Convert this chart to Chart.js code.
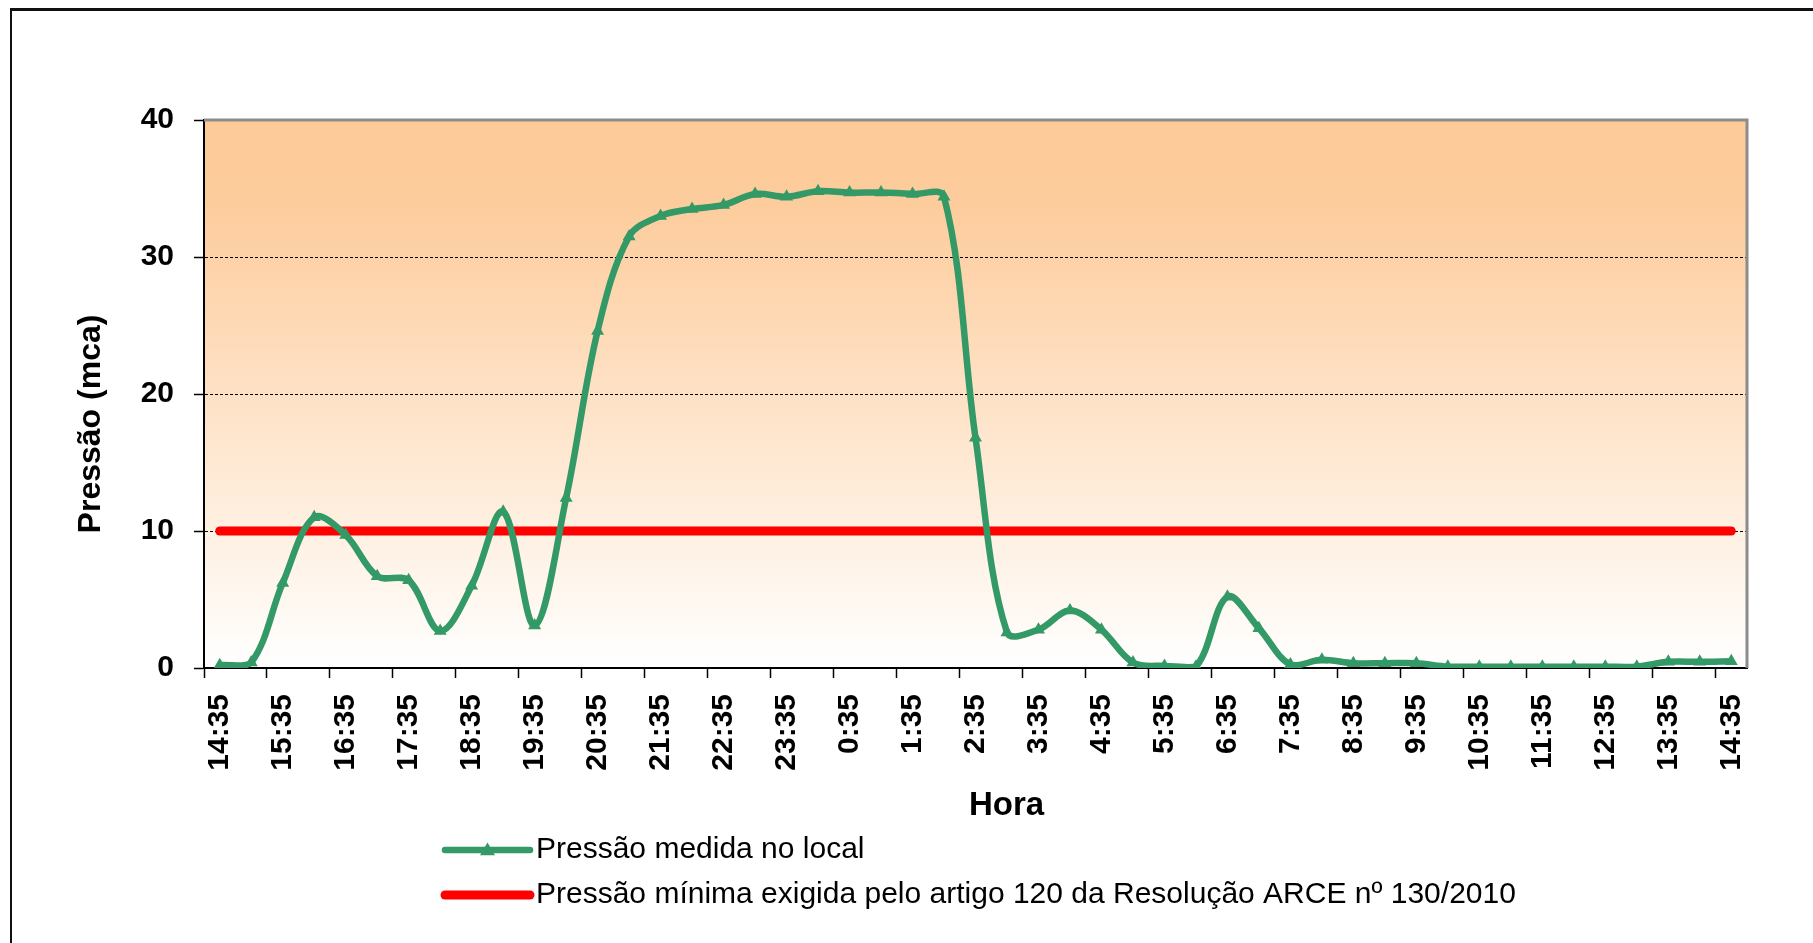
<!DOCTYPE html>
<html lang="pt-BR">
<head>
<meta charset="utf-8">
<title>Pressão medida no local</title>
<script src="https://cdn.jsdelivr.net/npm/chart.js@4.4.1/dist/chart.umd.min.js"></script>
<style>
    html, body { margin: 0; padding: 0; background: #fff; overflow: hidden; }
    #quadro { position: absolute; left: 0; top: 0; width: 1813px; height: 943px; }
    #moldura {
        position: absolute; left: 10px; top: 8px; width: 2000px; height: 2000px;
        border-left: 2px solid #111; border-top: 3px solid #111; pointer-events: none;
    }
</style>
</head>
<body>
<div id="quadro">
    <canvas id="graficoPressao" width="1813" height="943"></canvas>
</div>
<div id="moldura"></div>
<script>
// Horários das leituras (a cada 30 minutos)
var horas = [
    "14:35", "15:05", "15:35", "16:05", "16:35", "17:05", "17:35", "18:05", "18:35", "19:05",
    "19:35", "20:05", "20:35", "21:05", "21:35", "22:05", "22:35", "23:05", "23:35", "0:05",
    "0:35", "1:05", "1:35", "2:05", "2:35", "3:05", "3:35", "4:05", "4:35", "5:05",
    "5:35", "6:05", "6:35", "7:05", "7:35", "8:05", "8:35", "9:05", "9:35", "10:05",
    "10:35", "11:05", "11:35", "12:05", "12:35", "13:05", "13:35", "14:05", "14:35"
];

// Pressão medida no local (mca)
var pressaoMedida = [
    0.2, 0.4, 6.2, 11.0, 9.7, 6.7, 6.4, 2.7, 6.0, 11.4,
    3.1, 12.4, 24.6, 31.5, 33.0, 33.5, 33.8, 34.6, 34.4, 34.8,
    34.7, 34.7, 34.6, 34.4, 16.8, 2.6, 2.8, 4.2, 2.8, 0.4,
    0.15, 0.1, 5.2, 2.9, 0.25, 0.6, 0.35, 0.35, 0.35, 0.1,
    0.1, 0.1, 0.1, 0.1, 0.1, 0.1, 0.45, 0.45, 0.5
];

// Pressão mínima exigida (mca)
var pressaoMinima = [
    10, 10, 10, 10, 10, 10, 10, 10, 10, 10,
    10, 10, 10, 10, 10, 10, 10, 10, 10, 10,
    10, 10, 10, 10, 10, 10, 10, 10, 10, 10,
    10, 10, 10, 10, 10, 10, 10, 10, 10, 10,
    10, 10, 10, 10, 10, 10, 10, 10, 10
];

var marcasY = [0, 10, 20, 30, 40];

var nomesSeries = [
    "Pressão medida no local",
    "Pressão mínima exigida pelo artigo 120 da Resolução ARCE nº 130/2010"
];
var tituloX = "Hora";
var tituloY = "Pressão (mca)";

var fonte = '"Liberation Sans", Arial, sans-serif';
Chart.defaults.font.family = fonte;
Chart.defaults.color = "#000";

// Fundo em degradê da área de plotagem
var fundoPlugin = {
    id: "fundo",
    beforeDraw: function (chart) {
        var a = chart.chartArea;
        var ctx = chart.ctx;
        var grad = ctx.createLinearGradient(0, a.top, 0, a.bottom);
        grad.addColorStop(0, "#FDCA98");
        grad.addColorStop(0.15, "#FDCC9C");
        grad.addColorStop(1, "#FFFFFF");
        ctx.save();
        ctx.fillStyle = grad;
        ctx.fillRect(a.left, a.top, a.right - a.left, a.bottom - a.top);
        ctx.restore();
    },
    beforeDatasetsDraw: function (chart) {
        var a = chart.chartArea;
        var ctx = chart.ctx;
        ctx.save();
        ctx.strokeStyle = "#8C8C8C";
        ctx.lineWidth = 3;
        ctx.beginPath();
        ctx.moveTo(a.left, a.top);
        ctx.lineTo(a.right, a.top);
        ctx.lineTo(a.right, a.bottom);
        ctx.stroke();
        ctx.restore();
    }
};

// Títulos dos eixos e legenda abaixo do gráfico
var legendaPlugin = {
    id: "legendaInferior",
    afterDraw: function (chart) {
        var a = chart.chartArea;
        var ctx = chart.ctx;
        ctx.save();
        ctx.fillStyle = "#000";
        ctx.textBaseline = "middle";
        ctx.textAlign = "center";

        // eixo Y (texto girado)
        ctx.save();
        ctx.font = "bold 32px " + fonte;
        ctx.translate(a.left - 113, (a.top + a.bottom) / 2 + 30);
        ctx.rotate(-Math.PI / 2);
        ctx.fillText(tituloY, 0, 0);
        ctx.restore();

        // eixo X
        ctx.font = "bold 33px " + fonte;
        ctx.fillText(tituloX, (a.left + a.right) / 2 + 31, a.bottom + 138);

        ctx.font = "30px " + fonte;
        ctx.textAlign = "left";
        chart.data.datasets.forEach(function (ds, i) {
            var y = a.bottom + 182 + i * 45;
            var x0 = a.left + 241;
            var x1 = x0 + 85;
            ctx.strokeStyle = ds.borderColor;
            ctx.lineWidth = ds.borderWidth;
            ctx.lineCap = "round";
            ctx.beginPath();
            ctx.moveTo(x0, y);
            ctx.lineTo(x1, y);
            ctx.stroke();
            if (ds.pointRadius > 0) {
                var r = ds.pointRadius;
                var xm = (x0 + x1) / 2;
                ctx.fillStyle = ds.borderColor;
                ctx.beginPath();
                ctx.moveTo(xm, y - r);
                ctx.lineTo(xm + r, y + r * 0.7);
                ctx.lineTo(xm - r, y + r * 0.7);
                ctx.closePath();
                ctx.fill();
            }
            ctx.fillStyle = "#000";
            ctx.fillText(ds.label, x1 + 6, y);
        });
        ctx.restore();
    }
};

var ctx = document.getElementById("graficoPressao").getContext("2d");
var grafico = new Chart(ctx, {
    type: "line",
    data: {
        labels: horas,
        datasets: [
            {
                label: nomesSeries[0],
                data: pressaoMedida,
                borderColor: "#339966",
                backgroundColor: "#339966",
                borderWidth: 6.5,
                pointStyle: "triangle",
                pointRadius: 7.5,
                pointBorderWidth: 0,
                pointBackgroundColor: "#339966",
                tension: 0.35,
                fill: false
            },
            {
                label: nomesSeries[1],
                data: pressaoMinima,
                borderColor: "#FF0000",
                backgroundColor: "#FF0000",
                borderWidth: 9,
                borderCapStyle: "round",
                pointRadius: 0,
                tension: 0,
                fill: false
            }
        ]
    },
    options: {
        responsive: false,
        animation: false,
        devicePixelRatio: 1,
        layout: { padding: { top: 120, right: 66, bottom: 0, left: 0 } },
        plugins: {
            legend: { display: false },
            tooltip: { enabled: false }
        },
        scales: {
            x: {
                offset: true,
                afterFit: function (scale) { scale.height = 275; },
                grid: {
                    drawOnChartArea: false,
                    offset: true,
                    tickLength: 10,
                    tickWidth: 1.5,
                    tickColor: function (c) {
                        return c.index % 2 === 0 ? "#000" : "rgba(0,0,0,0)";
                    }
                },
                border: { color: "#000", width: 2 },
                ticks: {
                    autoSkip: false,
                    minRotation: 90,
                    maxRotation: 90,
                    padding: 16,
                    color: "#000",
                    font: { size: 30, weight: "bold" },
                    callback: function (value, index) {
                        return index % 2 === 0 ? this.getLabelForValue(value) : "";
                    }
                }
            },
            y: {
                min: marcasY[0],
                max: marcasY[marcasY.length - 1],
                afterFit: function (scale) { scale.width = 204; },
                afterBuildTicks: function (scale) {
                    scale.ticks = marcasY.map(function (v) { return { value: v }; });
                },
                grid: {
                    color: function (c) {
                        var v = c.tick ? c.tick.value : null;
                        return v === marcasY[0] || v === marcasY[marcasY.length - 1] ? "rgba(0,0,0,0)" : "#000";
                    },
                    lineWidth: 1,
                    tickLength: 10,
                    tickWidth: 1.5,
                    tickColor: "#000",
                    tickBorderDash: []
                },
                border: { color: "#000", width: 2, dash: [3, 2] },
                ticks: {
                    padding: 20,
                    color: "#000",
                    font: { size: 30, weight: "bold" }
                }
            }
        }
    },
    plugins: [fundoPlugin, legendaPlugin]
});
</script>
</body>
</html>
